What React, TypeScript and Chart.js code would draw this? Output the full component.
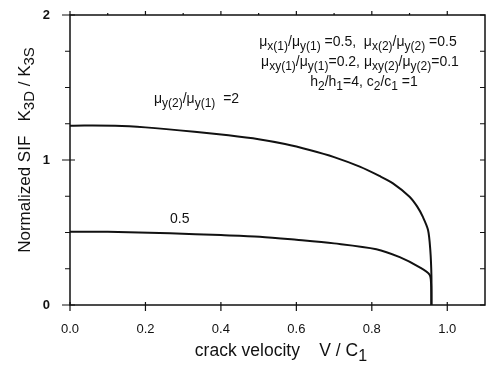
import React, { useEffect, useRef } from "react";
import { Chart, registerables } from "chart.js";

Chart.register(...registerables);

const upperV = [0, 0.12, 0.2, 0.33, 0.42, 0.5, 0.57, 0.635, 0.7, 0.768, 0.82, 0.856, 0.9, 0.92, 0.935, 0.949, 0.955, 0.958, 0.958];
const upperK = [1.237, 1.236, 1.225, 1.195, 1.17, 1.143, 1.11, 1.069, 1.02, 0.954, 0.89, 0.839, 0.747, 0.68, 0.609, 0.517, 0.38, 0.2, 0];
const lowerV = [0, 0.1, 0.265, 0.4, 0.503, 0.6, 0.7, 0.812, 0.874, 0.927, 0.953, 0.957, 0.958];
const lowerK = [0.506, 0.505, 0.494, 0.482, 0.471, 0.45, 0.425, 0.385, 0.33, 0.26, 0.21, 0.15, 0];
const xTicks = [0, 0.2, 0.4, 0.6, 0.8, 1.0];
const yTicks = [0, 1, 2];
const xMinorTicks = [0.1, 0.3, 0.5, 0.7, 0.9];
const yMinorTicks = [0.25, 0.5, 0.75, 1.25, 1.5, 1.75];

type Seg = { t: string; sub?: boolean };
const FONT = "Arial, 'Liberation Sans', sans-serif";

function drawRich(ctx: CanvasRenderingContext2D, segs: Seg[], x: number, y: number, size: number, align: "left" | "center", subRatio = 0.82) {
  const subSize = Math.round(size * subRatio);
  let total = 0;
  for (const s of segs) {
    ctx.font = `${s.sub ? subSize : size}px ${FONT}`;
    total += ctx.measureText(s.t).width;
  }
  let cx = align === "center" ? x - total / 2 : x;
  ctx.textAlign = "left";
  ctx.textBaseline = "middle";
  for (const s of segs) {
    ctx.font = `${s.sub ? subSize : size}px ${FONT}`;
    ctx.fillText(s.t, cx, s.sub ? y + size * 0.3 : y);
    cx += ctx.measureText(s.t).width;
  }
}

const decorPlugin = {
  id: "decor",
  afterDraw(chart: any) {
    const ctx: CanvasRenderingContext2D = chart.ctx;
    const a = chart.chartArea;
    const xs = chart.scales.x;
    const ys = chart.scales.y;
    ctx.save();
    ctx.strokeStyle = "#111";
    ctx.fillStyle = "#111";
    ctx.lineWidth = 1.5;
    ctx.strokeRect(a.left, a.top, a.right - a.left, a.bottom - a.top);
    ctx.lineWidth = 1.2;
    ctx.beginPath();
    for (const v of yTicks) {
      const py = ys.getPixelForValue(v);
      ctx.moveTo(a.left - 8, py); ctx.lineTo(a.left + 5, py);
      ctx.moveTo(a.right - 5, py); ctx.lineTo(a.right, py);
    }
    for (const v of yMinorTicks) {
      const py = ys.getPixelForValue(v);
      ctx.moveTo(a.left - 5, py); ctx.lineTo(a.left, py);
      ctx.moveTo(a.right - 5, py); ctx.lineTo(a.right, py);
    }
    for (const v of xTicks) {
      const px = xs.getPixelForValue(v);
      ctx.moveTo(px, a.bottom + 6); ctx.lineTo(px, a.bottom - 3);
      ctx.moveTo(px, a.top - 4); ctx.lineTo(px, a.top);
    }
    for (const v of xMinorTicks) {
      const px = xs.getPixelForValue(v);
      ctx.moveTo(px, a.top - 2); ctx.lineTo(px, a.top);
    }
    ctx.stroke();

    // tick labels
    ctx.font = `13px ${FONT}`;
    ctx.textAlign = "center";
    ctx.textBaseline = "middle";
    for (const v of xTicks) {
      ctx.fillText(v.toFixed(1), xs.getPixelForValue(v), a.bottom + 24);
    }
    ctx.textAlign = "right";
    ctx.font = `bold 13px ${FONT}`;
    for (const v of yTicks) {
      ctx.fillText(String(v), a.left - 20, ys.getPixelForValue(v));
    }

    // axis titles
    drawRich(ctx, [{ t: "crack velocity    V / C" }, { t: "1", sub: true }], 281, 351, 17.5, "center", 0.9);
    ctx.save();
    ctx.translate(25, 150);
    ctx.rotate(-Math.PI / 2);
    drawRich(ctx, [{ t: "Normalized SIF   K" }, { t: "3D", sub: true }, { t: " / K" }, { t: "3S", sub: true }], 0, 0, 17, "center", 0.9);
    ctx.restore();

    // annotations
    const mu = "\u03bc";
    drawRich(ctx, [
      { t: mu }, { t: "x(1)", sub: true }, { t: "/" + mu }, { t: "y(1)", sub: true }, { t: " =0.5,  " + mu },
      { t: "x(2)", sub: true }, { t: "/" + mu }, { t: "y(2)", sub: true }, { t: " =0.5" },
    ], 358, 42, 14, "center", 0.88);
    drawRich(ctx, [
      { t: mu }, { t: "xy(1)", sub: true }, { t: "/" + mu }, { t: "y(1)", sub: true }, { t: "=0.2, " + mu },
      { t: "xy(2)", sub: true }, { t: "/" + mu }, { t: "y(2)", sub: true }, { t: "=0.1" },
    ], 360, 62, 14, "center", 0.88);
    drawRich(ctx, [
      { t: "h" }, { t: "2", sub: true }, { t: "/h" }, { t: "1", sub: true }, { t: "=4, c" },
      { t: "2", sub: true }, { t: "/c" }, { t: "1", sub: true }, { t: " =1" },
    ], 364, 82, 14, "center", 0.88);
    drawRich(ctx, [
      { t: mu }, { t: "y(2)", sub: true }, { t: "/" + mu }, { t: "y(1)", sub: true }, { t: "  =2" },
    ], 154, 99, 14, "left", 0.88);
    drawRich(ctx, [{ t: "0.5" }], 170, 219, 14, "left");
    ctx.restore();
  },
};

export default function App() {
  const ref = useRef<HTMLCanvasElement>(null);
  useEffect(() => {
    document.body.style.margin = "0";
    const chart = new Chart(ref.current!, {
      type: "scatter",
      data: {
        datasets: [
          {
            data: upperV.map((v, i) => ({ x: v, y: upperK[i] })),
            showLine: true, borderColor: "#111", borderWidth: 2, pointRadius: 0, tension: 0.3,
          },
          {
            data: lowerV.map((v, i) => ({ x: v, y: lowerK[i] })),
            showLine: true, borderColor: "#111", borderWidth: 2, pointRadius: 0, tension: 0.3,
          },
        ],
      },
      options: {
        animation: false,
        responsive: false,
        devicePixelRatio: 1,
        layout: { padding: { left: 0, right: 4, top: 15, bottom: 0 } },
        plugins: { legend: { display: false }, tooltip: { enabled: false } },
        scales: {
          x: {
            type: "linear", min: 0, max: 1.1,
            grid: { display: false }, border: { display: false },
            ticks: { display: false },
            afterFit: (s: any) => { s.height = 60; },
          },
          y: {
            type: "linear", min: 0, max: 2,
            grid: { display: false }, border: { display: false },
            ticks: { display: false },
            afterFit: (s: any) => { s.width = 70; },
          },
        },
      },
      plugins: [decorPlugin],
    } as any);
    return () => chart.destroy();
  }, []);
  return <canvas ref={ref} width={489} height={365} style={{ display: "block" }} />;
}
